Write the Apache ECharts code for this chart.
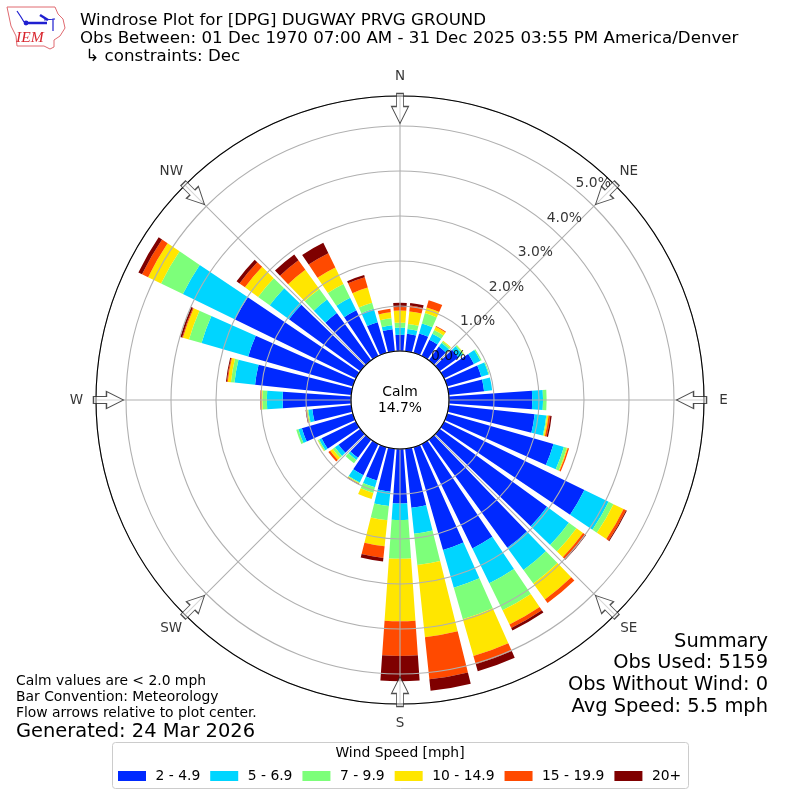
<!DOCTYPE html>
<html><head><meta charset="utf-8">
<style>html,body{margin:0;padding:0;background:#fff}#c{width:800px;height:800px}</style>
<script src="https://cdn.jsdelivr.net/npm/echarts@6/dist/echarts.min.js"></script>
</head><body><div id="c"></div>
<script>
const directions = ['0','10','20','30','40','50','60','70','80','90','100','110','120','130','140','150','160','170','180','190','200','210','220','230','240','250','260','270','280','290','300','310','320','330','340','350'];
const speedBins = ['2 - 4.9','5 - 6.9','7 - 9.9','10 - 14.9','15 - 19.9','20+'];
const binColors = ['#0029ff','#00d5ff','#7dff7a','#ffe600','#ff4a00','#7f0000'];
const bin1 = [.36,.39,.45,.40,.38,.52,.74,.79,.79,1.85,1.92,2.46,3.47,2.95,2.97,2.58,2.38,1.32,1.21,.96,.77,.77,.50,.60,.85,1.18,.87,1.52,2.15,2.42,2.99,1.96,1.30,1.13,.71,.49];
const bin2 = [.16,.11,.23,.15,.10,.11,.16,.17,.18,.24,.26,.24,.60,.60,.61,.86,.87,.58,.37,.32,.16,.18,.06,.10,.06,.08,.09,.35,.46,1.08,1.29,.53,.37,.31,.31,.09];
const bin3 = [.11,.11,.24,.09,.04,.03,.03,.02,0,.08,.02,.07,.12,.21,.37,.67,.73,.70,.86,.32,.13,.02,.09,.06,.03,.05,.02,.10,.08,.29,.54,.32,.29,.34,.14,.16];
const bin4 = [.27,.28,.13,.08,.02,.01,0,0,0,0,.03,.02,.25,.18,.44,.35,.85,1.61,1.39,.58,.14,.01,0,.07,.01,0,.02,.02,.07,.14,.32,.36,.53,.41,.35,.13];
const bin5 = [.08,.13,.17,.02,0,0,0,0,0,0,.04,.03,.06,.06,.10,.09,.19,.94,.77,.26,0,.01,0,.05,0,0,.01,.03,.02,.02,.15,.15,.26,.35,.24,.08];
const bin6 = [.09,.06,0,0,0,0,0,0,0,0,.03,0,.02,.02,0,.06,.16,.26,.56,.08,0,.01,0,0,0,0,.01,0,.02,.04,.09,.08,.16,.26,.05,0];
const binValues = [bin1,bin2,bin3,bin4,bin5,bin6];
const radialTicks = [0,1,2,3,4,5];
const compass = [['N',0],['NE',45],['E',90],['SE',135],['S',180],['SW',225],['W',270],['NW',315]];
const titleLines = ['Windrose Plot for [DPG] DUGWAY PRVG GROUND','Obs Between: 01 Dec 1970 07:00 AM - 31 Dec 2025 03:55 PM America/Denver',' ↳ constraints: Dec'];
const summaryLines = ['Summary','Obs Used: 5159','Obs Without Wind: 0','Avg Speed: 5.5 mph'];
const noteLines = ['Calm values are < 2.0 mph','Bar Convention: Meteorology','Flow arrows relative to plot center.'];

const F = 'DejaVu Sans';
const RMAX = 5.667;
const arrowPath = 'path://M5,0 L12,0 L12,13 L17,13 L8.5,30 L0,13 L5,13 Z';
const chart = echarts.init(document.getElementById('c'), null, {renderer:'canvas'});
const txt = (x,y,t,size,align,extra) => ({type:'text',x,y,z:20,style:Object.assign({text:t,font:size+'px "'+F+'"',fill:'#000',textAlign:align||'left',textVerticalAlign:'middle'},extra||{})});
const graphics = [];
titleLines.forEach((t,i)=>graphics.push(txt(80,21+i*17.6,t,16.67)));
summaryLines.forEach((t,i)=>graphics.push(txt(768,641.5+i*21.7,t,19.44,'right')));
noteLines.forEach((t,i)=>graphics.push(txt(16,681+i*16,t,13.89)));
graphics.push(txt(16,731.5,'Generated: 24 Mar 2026',19.44));
graphics.push(txt(400,392,'Calm',13.89,'center'));
graphics.push(txt(400,408,'14.7%',13.89,'center'));
graphics.push({type:'rect',z:-1,shape:{x:112.5,y:742.5,width:576,height:46,r:3},style:{fill:'#fff',stroke:'#ccc',lineWidth:1}});
graphics.push(txt(400,753,'Wind Speed [mph]',13.89,'center'));
// IEM logo
graphics.push({type:'polygon',z:20,shape:{points:[[7,7],[55,7],[58,14],[63,19],[65,28],[60,36],[54,40],[54,47],[50,49],[44,46],[17,46],[16,36],[11,26]]},style:{fill:'#fff',stroke:'#e06a70',lineWidth:1}});
graphics.push({type:'polyline',z:21,shape:{points:[[17,11],[21,17],[24,22]]},style:{stroke:'#1f1fd0',lineWidth:1.2,fill:'none'}});
graphics.push({type:'polyline',z:21,shape:{points:[[26,23],[47,23]]},style:{stroke:'#1f1fd0',lineWidth:2.5,fill:'none'}});
graphics.push({type:'polyline',z:21,shape:{points:[[40,15],[48,20]]},style:{stroke:'#1f1fd0',lineWidth:2.5,fill:'none'}});
graphics.push({type:'polyline',z:21,shape:{points:[[44,20],[55,19],[53,19],[53,31]]},style:{stroke:'#1f1fd0',lineWidth:1.2,fill:'none'}});
graphics.push({type:'circle',z:21,shape:{cx:26,cy:23,r:2.4},style:{fill:'#1f1fd0'}});
graphics.push(txt(16,38,'IEM',15.5,'left',{font:'italic 15.5px "Liberation Serif"',fill:'#d8242c'}));

const barSeries = speedBins.map((name,i)=>({
  name, type:'bar', coordinateSystem:'polar', polarIndex:0, stack:'wind', barWidth:'80%', z:1,
  silent:true, itemStyle:{color:binColors[i]}, data:binValues[i]
}));
chart.setOption({
  animation:false, backgroundColor:'#fff',
  graphic:graphics,
  legend:{show:true,left:118,top:769,icon:'rect',itemWidth:28,itemHeight:10,itemGap:10,padding:0,
    textStyle:{fontFamily:F,fontSize:13.89,color:'#000',padding:[0,0,0,4.5]},data:speedBins},
  polar:[{center:[400,400],radius:[49,304]},{center:[400,400],radius:[49,304]}],
  angleAxis:[
    {polarIndex:0,type:'category',data:directions,startAngle:95,show:false,boundaryGap:true},
    {polarIndex:1,type:'value',min:0,max:360,interval:45,startAngle:90,z:5,
      axisLine:{show:true,lineStyle:{color:'#000',width:1.1}},axisTick:{show:false},axisLabel:{show:false},
      splitLine:{show:true,lineStyle:{color:'#b0b0b0',width:1.1}}}
  ],
  radiusAxis:[
    {polarIndex:0,type:'value',min:0,max:RMAX,show:false},
    {polarIndex:1,type:'value',min:0,max:RMAX,interval:1,z:4,
      axisLine:{show:false},axisTick:{show:false},axisLabel:{show:false},
      splitLine:{show:true,lineStyle:{color:'#b0b0b0',width:1.1}}}
  ],
  series:[
    ...barSeries,
    {type:'scatter',coordinateSystem:'polar',polarIndex:1,z:8,silent:true,clip:false,
      symbol:'circle',symbolSize:1,itemStyle:{color:'transparent'},
      label:{show:true,position:'right',distance:0,offset:[-1,-6.5],fontFamily:F,fontSize:13.89,color:'#000',
        formatter:p=>p.value[0].toFixed(1)+'%'},
      data:radialTicks.map(t=>[t,40])},
    {type:'scatter',coordinateSystem:'polar',polarIndex:1,z:9,silent:true,clip:false,
      symbol:arrowPath,symbolSize:[17,30],
      itemStyle:{color:'rgba(255,255,255,0.6)',borderColor:'#222',borderWidth:1.1},
      data:compass.map(c=>({value:[5.39,c[1]],symbolRotate:-c[1]}))},
    {type:'scatter',coordinateSystem:'polar',polarIndex:1,z:9,silent:true,clip:false,
      symbol:'circle',symbolSize:1,itemStyle:{color:'transparent'},
      label:{show:true,position:'inside',fontFamily:F,fontSize:13.5,color:'#000',formatter:p=>p.name},
      data:compass.map(c=>({name:c[0],value:[6.1,c[1]]}))}
  ]
});
</script></body></html>
